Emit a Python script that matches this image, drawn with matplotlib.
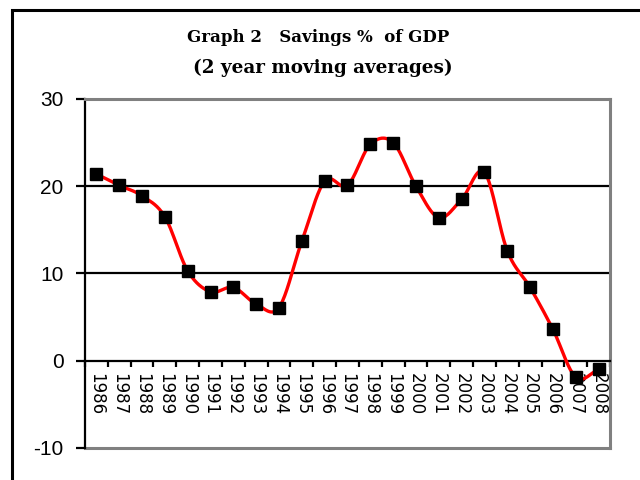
import matplotlib
matplotlib.use("Agg")
import matplotlib.pyplot as plt
from matplotlib.patches import Rectangle
import numpy as np

# Savings as % of GDP, 2 year moving averages
years = ["1986", "1987", "1988", "1989", "1990", "1991", "1992", "1993",
         "1994", "1995", "1996", "1997", "1998", "1999", "2000", "2001",
         "2002", "2003", "2004", "2005", "2006", "2007", "2008"]
savings = [21.4, 20.1, 18.9, 16.5, 10.3, 7.9, 8.4, 6.5, 6.1, 13.7, 20.6, 20.1,
           24.8, 25.0, 20.0, 16.4, 18.5, 21.6, 12.6, 8.4, 3.6, -1.9, -1.0]

title_lines = ["Graph 2   Savings %  of GDP", "(2 year moving averages)"]
y_ticks = [-10, 0, 10, 20, 30]


def smooth_curve(xs, ys, steps=20):
    # Catmull-Rom spline through the points (Excel-style smoothed line)
    xs = np.asarray(xs, float)
    ys = np.asarray(ys, float)
    px = np.concatenate([[2 * xs[0] - xs[1]], xs, [2 * xs[-1] - xs[-2]]])
    py = np.concatenate([[2 * ys[0] - ys[1]], ys, [2 * ys[-1] - ys[-2]]])
    t = np.linspace(0, 1, steps, endpoint=False)
    out_x, out_y = [], []
    for i in range(1, len(px) - 2):
        for p, out in ((px, out_x), (py, out_y)):
            p0, p1, p2, p3 = p[i - 1], p[i], p[i + 1], p[i + 2]
            out.extend(0.5 * (2 * p1 + (-p0 + p2) * t
                              + (2 * p0 - 5 * p1 + 4 * p2 - p3) * t ** 2
                              + (-p0 + 3 * p1 - 3 * p2 + p3) * t ** 3))
    out_x.append(xs[-1])
    out_y.append(ys[-1])
    return np.array(out_x), np.array(out_y)


fig = plt.figure(figsize=(6.4, 4.8), dpi=100)
fig.patch.set_facecolor("white")

# outer chart frame (runs off the right and bottom edges)
fig.patches.append(Rectangle((0.019, -0.2), 1.2, 1.179, transform=fig.transFigure,
                             fill=False, edgecolor="black", linewidth=2.2))

ax = fig.add_axes([0.1328, 0.0667, 0.8203, 0.7271])
x = np.arange(len(years))

ax.set_xlim(-0.5, len(years) - 0.5)
ax.set_ylim(-10, 30)

# gridlines and plot border
for g in [10, 20]:
    ax.axhline(g, color="black", linewidth=1.6, zorder=1)
ax.axhline(-10, color="#808080", linewidth=2.2, zorder=1, clip_on=False)
ax.spines["top"].set_color("#808080")
ax.spines["top"].set_linewidth(2.2)
ax.spines["right"].set_color("#808080")
ax.spines["right"].set_linewidth(2.2)
ax.spines["left"].set_color("black")
ax.spines["left"].set_linewidth(1.6)
ax.spines["bottom"].set_position(("data", 0))
ax.spines["bottom"].set_color("black")
ax.spines["bottom"].set_linewidth(1.6)

sx, sy = smooth_curve(x, savings)
ax.plot(sx, sy, color="#ff0000", linewidth=2.4, zorder=3, solid_capstyle="butt")
ax.plot(x, savings, linestyle="none", marker="s", markersize=9,
        color="black", zorder=4)

# y axis
ax.set_yticks(y_ticks)
ax.set_yticklabels([str(v) for v in y_ticks], fontsize=15, family="Liberation Sans")
ax.tick_params(axis="y", direction="out", length=6.5, width=1.6, pad=9, color="black")

# x axis: labels at category centres, tick marks at category boundaries
ax.set_xticks(x)
ax.set_xticklabels(years, rotation=-90, fontsize=12, family="DejaVu Sans",
                   va="top", ha="center")
ax.set_xticks(np.arange(len(years) + 1) - 0.5, minor=True)
ax.tick_params(axis="x", which="major", length=0, pad=9)
ax.tick_params(axis="x", which="minor", direction="out", length=4, width=1.6,
               color="black")

fig.text(0.497, 0.921, title_lines[0], ha="center", va="center", fontsize=12,
         fontweight="bold", family="DejaVu Serif")
fig.text(0.504, 0.858, title_lines[1], ha="center", va="center", fontsize=13.2,
         fontweight="bold", family="DejaVu Serif")

fig.savefig("out.png", dpi=100, facecolor="white")
